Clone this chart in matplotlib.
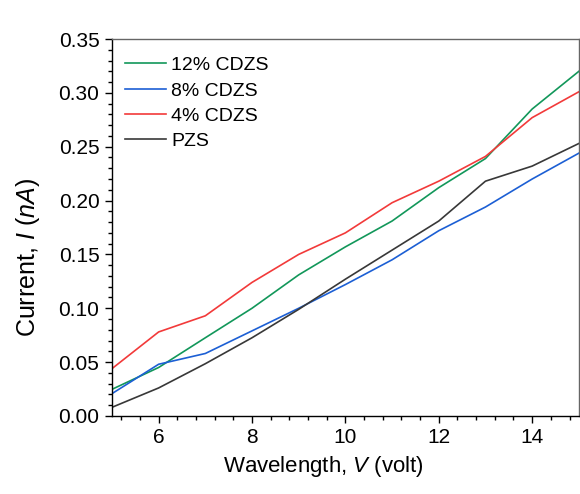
import matplotlib
matplotlib.use("Agg")
import matplotlib.pyplot as plt
from matplotlib.ticker import MultipleLocator, AutoMinorLocator, FormatStrFormatter

plt.rcParams['font.family'] = ['Liberation Sans', 'DejaVu Sans']
plt.rcParams['mathtext.fontset'] = 'custom'
plt.rcParams['mathtext.rm'] = 'Liberation Sans'
plt.rcParams['mathtext.it'] = 'Liberation Sans:italic'

voltage = [5, 6, 7, 8, 9, 10, 11, 12, 13, 14, 15]
cdzs12 = [0.0247, 0.045, 0.0726, 0.100, 0.131, 0.157, 0.181, 0.212, 0.239, 0.285, 0.320]
cdzs8 = [0.0207, 0.048, 0.058, 0.079, 0.100, 0.122, 0.145, 0.172, 0.194, 0.220, 0.244]
cdzs4 = [0.0439, 0.078, 0.093, 0.124, 0.150, 0.170, 0.198, 0.218, 0.241, 0.277, 0.301]
pzs = [0.008, 0.026, 0.0485, 0.0726, 0.099, 0.127, 0.154, 0.181, 0.218, 0.232, 0.253]
labels = ['12% CDZS', '8% CDZS', '4% CDZS', 'PZS']
colors = ['#12975a', '#1c5fd4', '#f23a3a', '#383838']

fig = plt.figure(figsize=(5.8, 4.94), dpi=100)
ax = fig.add_axes([0.193, 0.158, 0.805, 0.763])

for ys, lab, c in zip([cdzs12, cdzs8, cdzs4, pzs], labels, colors):
    ax.plot(voltage, ys, color=c, lw=1.2, label=lab)

ax.set_xlim(5, 15)
ax.set_ylim(0, 0.35)
ax.xaxis.set_major_locator(MultipleLocator(2))
ax.xaxis.set_minor_locator(AutoMinorLocator(5))
ax.yaxis.set_major_locator(MultipleLocator(0.05))
ax.yaxis.set_minor_locator(AutoMinorLocator(5))
ax.yaxis.set_major_formatter(FormatStrFormatter('%.2f'))
ax.tick_params(which='major', direction='out', length=5, width=1, labelsize=15, colors='black', pad=4)
ax.tick_params(which='minor', direction='out', length=3, width=1)
ax.tick_params(top=False, right=False)
for s in ['left', 'bottom']:
    ax.spines[s].set_color('black')
    ax.spines[s].set_linewidth(1)
for s in ['top', 'right']:
    ax.spines[s].set_color('#666666')
    ax.spines[s].set_linewidth(1)

ax.set_xlabel('Wavelength, $\\mathit{V}$ (volt)', fontsize=16)
ax.set_ylabel('Current, $\\mathit{I}$ $\\mathit{(nA)}$', fontsize=18)
ax.xaxis.set_label_coords(0.454, -0.100)
ax.yaxis.set_label_coords(-0.15, 0.42)

ax.legend(loc='upper left', bbox_to_anchor=(-0.01, 1.0), frameon=False, fontsize=14,
          handlelength=2.1, handletextpad=0.3, labelspacing=0.4, borderaxespad=0.5)

fig.savefig('out.png', dpi=100)
